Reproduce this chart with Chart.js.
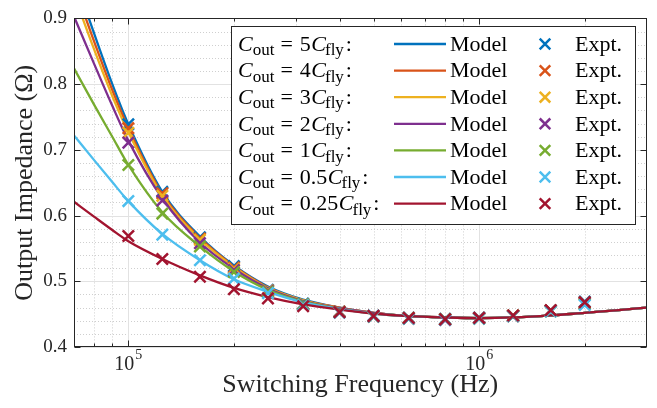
<!DOCTYPE html>
<html><head><meta charset="utf-8">
<script src="https://cdn.jsdelivr.net/npm/chart.js@4.4.1/dist/chart.umd.min.js"></script>
<style>html,body{margin:0;padding:0;background:#fff}#wrap{width:657px;height:408px;position:relative}</style>
</head><body><div id="wrap"><canvas id="c" width="657" height="408"></canvas></div>
<script>
// ---- data ----
const modelFreq = [70e3, 80e3, 90e3, 100e3, 125e3, 160e3, 200e3, 250e3, 315e3, 400e3, 500e3, 630e3, 800e3, 1e6, 1.25e6, 1.6e6, 2e6, 2.5e6, 3e6];
const exptFreq  = [100e3, 125e3, 160e3, 200e3, 250e3, 315e3, 400e3, 500e3, 630e3, 800e3, 1e6, 1.25e6, 1.6e6, 2e6];
const ratioLabels = ['5', '4', '3', '2', '1', '0.5', '0.25'];

const model5   = [0.965, 0.876, 0.800, 0.739, 0.636, 0.568, 0.524, 0.492, 0.472, 0.460, 0.452, 0.447, 0.445, 0.444, 0.445, 0.448, 0.452, 0.456, 0.460];
const model4   = [0.950, 0.864, 0.791, 0.733, 0.633, 0.566, 0.523, 0.491, 0.471, 0.460, 0.452, 0.447, 0.445, 0.444, 0.445, 0.448, 0.452, 0.456, 0.460];
const model3   = [0.936, 0.852, 0.782, 0.727, 0.630, 0.564, 0.522, 0.490, 0.471, 0.459, 0.452, 0.447, 0.445, 0.444, 0.445, 0.448, 0.452, 0.456, 0.460];
const model2   = [0.903, 0.830, 0.767, 0.714, 0.626, 0.559, 0.519, 0.489, 0.470, 0.459, 0.452, 0.447, 0.445, 0.444, 0.445, 0.448, 0.452, 0.456, 0.460];
const model1   = [0.824, 0.768, 0.720, 0.677, 0.605, 0.553, 0.515, 0.487, 0.469, 0.458, 0.451, 0.447, 0.445, 0.444, 0.445, 0.448, 0.452, 0.456, 0.460];
const model05  = [0.722, 0.684, 0.651, 0.622, 0.572, 0.532, 0.503, 0.484, 0.468, 0.458, 0.451, 0.447, 0.445, 0.444, 0.445, 0.448, 0.452, 0.456, 0.460];
const model025 = [0.621, 0.598, 0.578, 0.561, 0.534, 0.509, 0.490, 0.476, 0.465, 0.457, 0.451, 0.447, 0.445, 0.444, 0.445, 0.448, 0.452, 0.456, 0.460];

const expt5   = [0.739, 0.636, 0.567, 0.523, 0.487, 0.466, 0.454, 0.448, 0.445, 0.443, 0.445, 0.448, 0.456, 0.469];
const expt4   = [0.733, 0.634, 0.565, 0.521, 0.486, 0.465, 0.454, 0.447, 0.444, 0.442, 0.444, 0.448, 0.456, 0.468];
const expt3   = [0.726, 0.630, 0.563, 0.519, 0.486, 0.465, 0.453, 0.447, 0.444, 0.442, 0.444, 0.448, 0.455, 0.467];
const expt2   = [0.711, 0.623, 0.558, 0.517, 0.485, 0.465, 0.453, 0.447, 0.443, 0.441, 0.444, 0.447, 0.455, 0.466];
const expt1   = [0.677, 0.603, 0.553, 0.514, 0.484, 0.465, 0.453, 0.446, 0.443, 0.442, 0.443, 0.447, 0.454, 0.465];
const expt05  = [0.622, 0.571, 0.532, 0.504, 0.482, 0.464, 0.452, 0.446, 0.443, 0.441, 0.443, 0.447, 0.454, 0.464];
const expt025 = [0.569, 0.534, 0.507, 0.488, 0.474, 0.462, 0.453, 0.447, 0.444, 0.442, 0.444, 0.448, 0.456, 0.468];

const xMajorTicks = [1e5, 1e6];
const xTickExp = ['5', '6'];
const yTicks = [0.4, 0.5, 0.6, 0.7, 0.8, 0.9];
const xLabel = 'Switching Frequency (Hz)';
const yLabel = 'Output Impedance (\u03A9)';

// ---- styles ----
const colors = ['#0072BD', '#D95319', '#EDB120', '#7E2F8E', '#77AC30', '#4DBEEE', '#A2142F'];
const modelSets = [model5, model4, model3, model2, model1, model05, model025];
const exptSets = [expt5, expt4, expt3, expt2, expt1, expt05, expt025];
const FONT = '"Liberation Serif", "Times New Roman", serif';
const AX = '#262626';

const datasets = [];
modelSets.forEach((arr, i) => datasets.push({
  label: 'Model', data: modelFreq.map((f, j) => ({x: f, y: arr[j]})),
  borderColor: colors[i], backgroundColor: colors[i], borderWidth: 2.3,
  pointRadius: 0, cubicInterpolationMode: 'monotone', fill: false, order: 100 - i
}));
exptSets.forEach((arr, i) => datasets.push({
  label: 'Expt.', data: exptFreq.map((f, j) => ({x: f, y: arr[j]})),
  borderColor: colors[i], backgroundColor: colors[i], borderWidth: 2.5, showLine: false,
  pointStyle: 'crossRot', pointRadius: 8, order: 50 - i
}));

// minor tick positions (log decades and 0.02 steps)
function xMinorList(min, max) {
  const out = [];
  for (let d = 1e4; d <= 1e6; d *= 10) for (let m = 2; m <= 9; m++) { const v = m * d; if (v >= min && v < max) out.push(v); }
  return out;
}
function yMinorList(min, max) {
  const out = [];
  for (let k = Math.round(min * 50); k <= Math.round(max * 50); k++) if (k % 5 !== 0) out.push(k / 50);
  return out;
}

const framePlugin = {
  id: 'frame',
  beforeDatasetsDraw(chart) {
    const {ctx, chartArea: a, scales: {x, y}} = chart;
    ctx.save();
    ctx.lineWidth = 1;
    ctx.strokeStyle = '#cfcfcf';
    ctx.setLineDash([1, 2]);
    xMinorList(x.min, x.max).forEach(v => {
      const p = Math.round(x.getPixelForValue(v)) + 0.5;
      ctx.beginPath(); ctx.moveTo(p, a.top); ctx.lineTo(p, a.bottom); ctx.stroke();
    });
    yMinorList(y.min, y.max).forEach(v => {
      const p = Math.round(y.getPixelForValue(v)) + 0.5;
      ctx.beginPath(); ctx.moveTo(a.left, p); ctx.lineTo(a.right, p); ctx.stroke();
    });
    ctx.setLineDash([]);
    ctx.strokeStyle = '#e2e2e2';
    xMajorTicks.forEach(v => {
      const p = Math.round(x.getPixelForValue(v)) + 0.5;
      ctx.beginPath(); ctx.moveTo(p, a.top); ctx.lineTo(p, a.bottom); ctx.stroke();
    });
    yTicks.forEach(v => {
      const p = Math.round(y.getPixelForValue(v)) + 0.5;
      ctx.beginPath(); ctx.moveTo(a.left, p); ctx.lineTo(a.right, p); ctx.stroke();
    });
    ctx.restore();
  },
  afterDatasetsDraw(chart) {
    const {ctx, chartArea: a, scales: {x, y}} = chart;
    ctx.save();
    ctx.strokeStyle = AX; ctx.lineWidth = 1;
    const L = Math.round(a.left) + 0.5, R = Math.round(a.right) - 0.5, T = Math.round(a.top) + 0.5, B = Math.round(a.bottom) - 0.5;
    ctx.strokeRect(L, T, R - L, B - T);
    ctx.beginPath();
    const xt = (v, len) => { const p = Math.round(x.getPixelForValue(v)) + 0.5; ctx.moveTo(p, B); ctx.lineTo(p, B - len); ctx.moveTo(p, T); ctx.lineTo(p, T + len); };
    xMajorTicks.forEach(v => xt(v, 6));
    xMinorList(x.min, x.max).forEach(v => xt(v, 3));
    yTicks.forEach(v => { const p = Math.round(y.getPixelForValue(v)) + 0.5; ctx.moveTo(L, p); ctx.lineTo(L + 6, p); ctx.moveTo(R, p); ctx.lineTo(R - 6, p); });
    ctx.stroke();
    // x tick labels with superscript
    ctx.fillStyle = AX; ctx.textBaseline = 'alphabetic';
    xMajorTicks.forEach((v, i) => {
      const p = x.getPixelForValue(v);
      ctx.font = '20px ' + FONT; const w1 = ctx.measureText('10').width;
      ctx.font = '14px ' + FONT; const w2 = ctx.measureText(xTickExp[i]).width;
      const s = p - (w1 + 1 + w2) / 2;
      ctx.font = '20px ' + FONT; ctx.textAlign = 'left'; ctx.fillText('10', s, 370);
      ctx.font = '14px ' + FONT; ctx.fillText(xTickExp[i], s + w1 + 1, 359);
    });
    ctx.restore();
  },
  afterDraw(chart) {
    const {ctx} = chart;
    ctx.save();
    // legend box
    ctx.fillStyle = '#fff'; ctx.strokeStyle = AX; ctx.lineWidth = 1;
    ctx.fillRect(231.5, 26.5, 404, 198); ctx.strokeRect(231.5, 26.5, 404, 198);
    for (let i = 0; i < 7; i++) {
      const base = 50.7 + i * 26.6;
      const cy = base - 6.7;
      let xp = 238;
      ctx.fillStyle = '#000'; ctx.textBaseline = 'alphabetic'; ctx.textAlign = 'left';
      ctx.font = 'italic 22px ' + FONT; ctx.fillText('C', xp, base); xp += ctx.measureText('C').width;
      ctx.font = '17px ' + FONT; ctx.fillText('out', xp, base + 4.5); xp += ctx.measureText('out').width + 6;
      ctx.font = '22px ' + FONT; ctx.fillText('=', xp, base); xp += ctx.measureText('=').width + 7;
      ctx.fillText(ratioLabels[i], xp, base); xp += ctx.measureText(ratioLabels[i]).width + 0.5;
      ctx.font = 'italic 22px ' + FONT; ctx.fillText('C', xp, base); xp += ctx.measureText('C').width - 1;
      ctx.font = '17px ' + FONT; ctx.fillText('fly', xp, base + 4.5); xp += ctx.measureText('fly').width + 2;
      ctx.font = '22px ' + FONT; ctx.fillText(':', xp, base);
      // line sample
      ctx.strokeStyle = colors[i]; ctx.lineWidth = 2.3;
      ctx.beginPath(); ctx.moveTo(394, cy); ctx.lineTo(446, cy); ctx.stroke();
      ctx.fillStyle = '#000';
      ctx.font = '22px ' + FONT; ctx.fillText(datasets[i].label, 450, base);
      // marker
      const r = 7.5 * Math.SQRT1_2;
      ctx.lineWidth = 2.5;
      ctx.beginPath(); ctx.moveTo(545 - r, cy - r); ctx.lineTo(545 + r, cy + r); ctx.moveTo(545 + r, cy - r); ctx.lineTo(545 - r, cy + r); ctx.stroke();
      ctx.fillText(datasets[7 + i].label, 575, base);
    }
    ctx.restore();
  }
};

new Chart(document.getElementById('c'), {
  type: 'line',
  data: {datasets},
  options: {
    responsive: false, animation: false, events: [],
    layout: {padding: {top: 15, right: 10, left: 0, bottom: 0}},
    plugins: {legend: {display: false}, tooltip: {enabled: false}},
    scales: {
      x: {
        type: 'logarithmic', min: 7e4, max: 3e6,
        grid: {display: false}, border: {display: false},
        ticks: {display: false, autoSkip: false},
        title: {display: true, text: xLabel, color: AX, font: {family: FONT, size: 26, lineHeight: 1}, padding: {top: 0, bottom: 10}},
        afterFit(s) { s.height = 61; }
      },
      y: {
        type: 'linear', min: 0.4, max: 0.9,
        grid: {display: false, drawTicks: false}, border: {display: false},
        ticks: {stepSize: 0.1, padding: 7, color: AX, font: {family: FONT, size: 19}, callback: v => yTicks.includes(Math.round(v * 10) / 10) ? v.toFixed(1) : ''},
        title: {display: true, text: yLabel, color: AX, font: {family: FONT, size: 26, lineHeight: 1}, padding: {top: 12, bottom: 0}},
        afterFit(s) { s.width = 74; }
      }
    }
  },
  plugins: [framePlugin]
});
</script></body></html>
